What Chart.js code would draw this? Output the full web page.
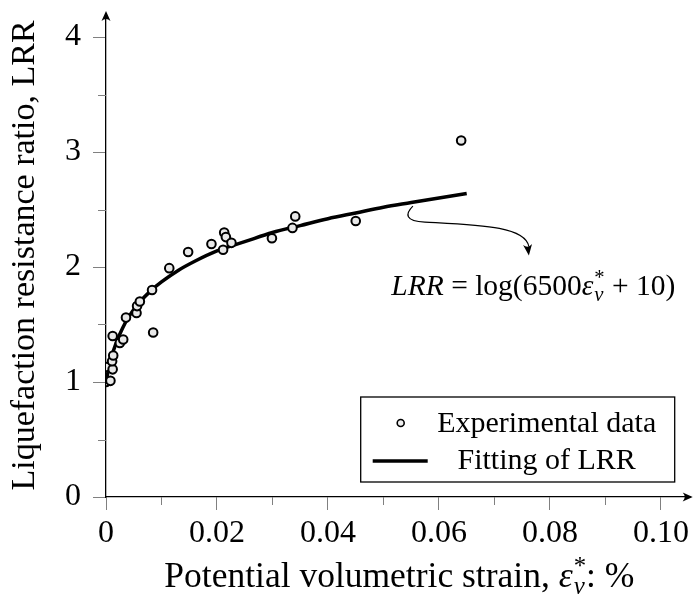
<!DOCTYPE html>
<html>
<head>
<meta charset="utf-8">
<script src="https://cdn.jsdelivr.net/npm/chart.js@4"></script>
<style>
  html, body { margin: 0; padding: 0; background: #fff; }
  #wrap { width: 695px; height: 598px; }
</style>
</head>
<body>
<div id="wrap"><canvas id="lrrChart"></canvas></div>
<script>
// experimental points (strain in %, LRR)
const expStrain = [0.0000, 0.0008, 0.0000, 0.0012, 0.0011, 0.0013, 0.0012, 0.0025, 0.0031, 0.0036,
                   0.0055, 0.0056, 0.0061, 0.0083, 0.0085, 0.0114, 0.0148, 0.0190, 0.0211, 0.0213,
                   0.0216, 0.0226, 0.0299, 0.0336, 0.0341, 0.0450, 0.0640]
const expLRR = [1.00, 1.01, 1.13, 1.11, 1.18, 1.23, 1.40, 1.34, 1.37, 1.56,
                1.60, 1.66, 1.70, 1.80, 1.43, 1.99, 2.13, 2.20, 2.15, 2.30,
                2.26, 2.21, 2.25, 2.34, 2.44, 2.40, 3.10]

// fitting curve
const fitStrain = [0, 0.0005, 0.001, 0.002, 0.003, 0.004, 0.006, 0.008, 0.010, 0.013, 0.016,
                   0.020, 0.025, 0.030, 0.035, 0.040, 0.045, 0.050, 0.055, 0.060, 0.065]
const fitLRR = [1.00, 1.12, 1.22, 1.36, 1.47, 1.56, 1.69, 1.79, 1.87, 1.97, 2.05,
                2.14, 2.22, 2.30, 2.36, 2.42, 2.47, 2.52, 2.56, 2.60, 2.64]

const xTickValues = [0, 0.02, 0.04, 0.06, 0.08, 0.10]
const xTickLabels = ["0", "0.02", "0.04", "0.06", "0.08", "0.10"]
const xMinorTicks = [0.01, 0.03, 0.05, 0.07, 0.09]
const yTickValues = [0, 1, 2, 3, 4]
const yTickLabels = ["0", "1", "2", "3", "4"]
const yMinorTicks = [0.5, 1.5, 2.5, 3.5]

const serif = "'Liberation Serif', 'DejaVu Serif', serif"
const tickGray = "#808080"

// draws simple math-ish text: ['r', txt] roman, ['i', txt] italic, ['s', sup, sub] stacked scripts
function drawMath(ctx, parts, x, y, size) {
    const small = size * 0.7
    const fontFor = (kind, s) => (kind == 'i' ? 'italic ' : '') + s + 'px ' + serif
    let widths = parts.map(p => {
        if (p[0] == 's') {
            ctx.font = fontFor('r', small)
            let w1 = ctx.measureText(p[1]).width
            ctx.font = fontFor('i', small)
            let w2 = ctx.measureText(p[2]).width
            return Math.max(w1, w2) + 1
        }
        ctx.font = fontFor(p[0], size)
        return ctx.measureText(p[1]).width
    })
    let total = widths.reduce((a, b) => a + b, 0)
    let cx = x - total / 2
    ctx.textAlign = 'left'
    ctx.textBaseline = 'alphabetic'
    ctx.fillStyle = '#000'
    parts.forEach((p, i) => {
        if (p[0] == 's') {
            ctx.font = fontFor('r', small)
            ctx.fillText(p[1], cx + 1, y - size * 0.36)
            ctx.font = fontFor('i', small)
            ctx.fillText(p[2], cx + 1, y + size * 0.2)
        } else {
            ctx.font = fontFor(p[0], size)
            ctx.fillText(p[1], cx, y)
        }
        cx += widths[i]
    })
}

function stealth(ctx, tipX, tipY, angle, len, half) {
    ctx.save()
    ctx.translate(tipX, tipY)
    ctx.rotate(angle)
    ctx.beginPath()
    ctx.moveTo(0, 0)
    ctx.lineTo(-len, -half)
    ctx.quadraticCurveTo(-len * 0.6, 0, -len, half)
    ctx.closePath()
    ctx.fillStyle = '#000'
    ctx.fill()
    ctx.restore()
}

const extrasPlugin = {
    id: 'extras',
    afterDraw(chart) {
        const ctx = chart.ctx
        const area = chart.chartArea
        const xs = chart.scales.x
        const ys = chart.scales.y
        ctx.save()

        // minor ticks
        ctx.strokeStyle = tickGray
        ctx.lineWidth = 1
        xMinorTicks.forEach(v => {
            let px = Math.round(xs.getPixelForValue(v)) + 0.5
            ctx.beginPath(); ctx.moveTo(px, area.bottom); ctx.lineTo(px, area.bottom + 8); ctx.stroke()
        })
        yMinorTicks.forEach(v => {
            let py = Math.round(ys.getPixelForValue(v)) + 0.5
            ctx.beginPath(); ctx.moveTo(area.left - 8, py); ctx.lineTo(area.left, py); ctx.stroke()
        })

        // axis arrows
        ctx.strokeStyle = '#000'
        ctx.lineWidth = 1.3
        ctx.beginPath(); ctx.moveTo(area.left, area.top); ctx.lineTo(area.left, area.top - 1); ctx.stroke()
        ctx.beginPath(); ctx.moveTo(area.right, area.bottom); ctx.lineTo(area.right + 2, area.bottom); ctx.stroke()
        stealth(ctx, area.left, area.top - 3, -Math.PI / 2, 10, 4.5)
        stealth(ctx, area.right + 4, area.bottom, 0, 10, 4.5)

        // x-axis title
        drawMath(ctx, [['r', 'Potential volumetric strain, '], ['i', 'ε'], ['s', '*', 'v'], ['r', ': %']],
            (area.left + area.right) / 2 + 2, 587, 35.5)

        // annotation: formula and curved arrow
        let sx = xs.getPixelForValue(0.0553), sy = ys.getPixelForValue(2.53)
        let tx = xs.getPixelForValue(0.0762), ty = ys.getPixelForValue(2.10)
        ctx.strokeStyle = '#000'
        ctx.lineWidth = 1.2
        ctx.beginPath()
        ctx.moveTo(sx, sy)
        ctx.bezierCurveTo(sx - 8, sy + 8, sx - 8, sy + 15, sx + 12, sy + 16)
        ctx.bezierCurveTo(tx - 50, sy + 19, tx - 4, sy + 20, tx, ty - 9)
        ctx.stroke()
        stealth(ctx, tx, ty, Math.PI / 2 - 0.12, 11, 4.5)

        drawMath(ctx, [['i', 'LRR'], ['r', ' = log(6500'], ['i', 'ε'], ['s', '*', 'v'], ['r', ' + 10)']],
            xs.getPixelForValue(0.0770), ys.getPixelForValue(1.76), 29.5)

        // legend box
        let bx = area.right - 14 - 314, by = area.bottom - 15 - 85
        ctx.fillStyle = '#fff'
        ctx.fillRect(bx, by, 314, 85)
        ctx.strokeStyle = '#000'
        ctx.lineWidth = 1.3
        ctx.strokeRect(bx, by, 314, 85)
        const ds = chart.data.datasets
        ctx.beginPath()
        ctx.arc(bx + 40, by + 26, 3.5, 0, Math.PI * 2)
        ctx.fillStyle = '#eee'
        ctx.fill()
        ctx.lineWidth = 1.6
        ctx.stroke()
        ctx.lineWidth = 3.5
        ctx.beginPath(); ctx.moveTo(bx + 12, by + 64); ctx.lineTo(bx + 67, by + 64); ctx.stroke()
        ctx.fillStyle = '#000'
        ctx.font = '30px ' + serif
        ctx.textAlign = 'center'
        ctx.textBaseline = 'middle'
        ctx.fillText(ds[0].label, bx + 186, by + 27)
        ctx.fillText(ds[1].label, bx + 186, by + 64)

        ctx.restore()
    }
}

Chart.defaults.font.family = serif
Chart.defaults.color = '#000'

new Chart("lrrChart", {
    type: "scatter",
    data: {
        datasets: [{
            label: "Experimental data",
            data: expStrain.map((v, i) => ({x: v, y: expLRR[i]})),
            pointRadius: 4.3,
            pointBorderWidth: 2,
            pointBackgroundColor: "#e8e8e8",
            pointBorderColor: "#000"
        }, {
            label: "Fitting of LRR",
            data: fitStrain.map((v, i) => ({x: v, y: fitLRR[i]})),
            showLine: true,
            borderColor: "#000",
            borderWidth: 3.5,
            pointRadius: 0,
            cubicInterpolationMode: 'monotone'
        }]
    },
    options: {
        responsive: true,
        maintainAspectRatio: false,
        animation: false,
        layout: { padding: { top: 14, right: 6, left: 0, bottom: 0 } },
        plugins: {
            legend: { display: false },
            tooltip: { enabled: false }
        },
        scales: {
            x: {
                type: 'linear',
                min: 0,
                max: 0.105,
                afterBuildTicks: (scale) => { scale.ticks = xTickValues.map(v => ({value: v})) },
                afterFit: (scale) => { scale.height = 101; scale.paddingLeft = 0; scale.paddingRight = 0 },
                ticks: {
                    callback: (value, index) => xTickLabels[index],
                    font: { size: 32 },
                    padding: 4,
                    maxRotation: 0
                },
                grid: { drawOnChartArea: false, drawTicks: true, tickLength: 13, tickColor: tickGray, tickWidth: 1 },
                border: { color: '#000', width: 1.3 }
            },
            y: {
                min: 0,
                max: 4.2,
                afterBuildTicks: (scale) => { scale.ticks = yTickValues.map(v => ({value: v})) },
                afterFit: (scale) => { scale.width = 106; scale.paddingTop = 0; scale.paddingBottom = 0 },
                ticks: {
                    callback: (value, index) => yTickLabels[index],
                    font: { size: 32 },
                    padding: 12
                },
                grid: { drawOnChartArea: false, drawTicks: true, tickLength: 13, tickColor: tickGray, tickWidth: 1 },
                border: { color: '#000', width: 1.3 },
                title: {
                    display: true,
                    text: "Liquefaction resistance ratio, LRR",
                    font: { size: 34 },
                    padding: { top: 5, bottom: 0 }
                }
            }
        }
    },
    plugins: [extrasPlugin]
});
</script>
</body>
</html>
